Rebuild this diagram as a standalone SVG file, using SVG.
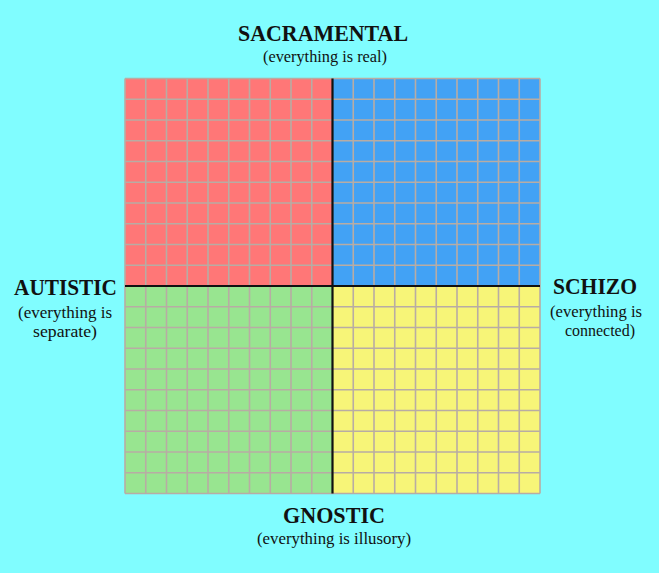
<svg xmlns="http://www.w3.org/2000/svg" width="659" height="573" viewBox="0 0 659 573">
<style>
.t{font-family:"Liberation Serif",serif;font-weight:bold;fill:#111;text-anchor:middle;font-size:24px}
.s{font-family:"Liberation Serif",serif;fill:#111;text-anchor:middle;font-size:17px}
.g{stroke:#b8aca4;stroke-width:1.6;fill:none}
</style>
<rect width="659" height="573" fill="#80fdff"/>
<g id="quadrants">
<rect x="125" y="78.5" width="207.5" height="207.5" fill="#ff7777"/>
<rect x="332.5" y="78.5" width="207.5" height="207.5" fill="#42a2f5"/>
<rect x="125" y="286" width="207.5" height="207.5" fill="#98e590"/>
<rect x="332.5" y="286" width="207.5" height="207.5" fill="#f7f578"/>
</g>
<g id="grid">
<path class="g" d="M125,78.5V493.5M145.75,78.5V493.5M166.5,78.5V493.5M187.25,78.5V493.5M208,78.5V493.5M228.75,78.5V493.5M249.5,78.5V493.5M270.25,78.5V493.5M291,78.5V493.5M311.75,78.5V493.5M353.25,78.5V493.5M374,78.5V493.5M394.75,78.5V493.5M415.5,78.5V493.5M436.25,78.5V493.5M457,78.5V493.5M477.75,78.5V493.5M498.5,78.5V493.5M519.25,78.5V493.5M540,78.5V493.5M125,78.5H540M125,99.25H540M125,120H540M125,140.75H540M125,161.5H540M125,182.25H540M125,203H540M125,223.75H540M125,244.5H540M125,265.25H540M125,306.75H540M125,327.5H540M125,348.25H540M125,369H540M125,389.75H540M125,410.5H540M125,431.25H540M125,452H540M125,472.75H540M125,493.5H540"/>
</g>
<g id="axes">
<path d="M332.5,78.5V493.5M125,286H540" stroke="#111" stroke-width="2.2" fill="none"/>
</g>
<g id="label-top">
<text class="t" x="323" y="41" textLength="170" lengthAdjust="spacingAndGlyphs">SACRAMENTAL</text>
<text class="s" x="325" y="62" textLength="124" lengthAdjust="spacingAndGlyphs">(everything is real)</text>
</g>
<g id="label-left">
<text class="t" x="65.5" y="295" textLength="103" lengthAdjust="spacingAndGlyphs">AUTISTIC</text>
<text class="s" x="65" y="318" textLength="94" lengthAdjust="spacingAndGlyphs">(everything is</text>
<text class="s" x="65" y="337" textLength="64" lengthAdjust="spacingAndGlyphs">separate)</text>
</g>
<g id="label-right">
<text class="t" x="595" y="294" textLength="84" lengthAdjust="spacingAndGlyphs">SCHIZO</text>
<text class="s" x="596" y="317" textLength="92" lengthAdjust="spacingAndGlyphs">(everything is</text>
<text class="s" x="600" y="336" textLength="70" lengthAdjust="spacingAndGlyphs">connected)</text>
</g>
<g id="label-bottom">
<text class="t" x="334" y="523" textLength="102" lengthAdjust="spacingAndGlyphs">GNOSTIC</text>
<text class="s" x="334" y="544" textLength="154" lengthAdjust="spacingAndGlyphs">(everything is illusory)</text>
</g>
</svg>
